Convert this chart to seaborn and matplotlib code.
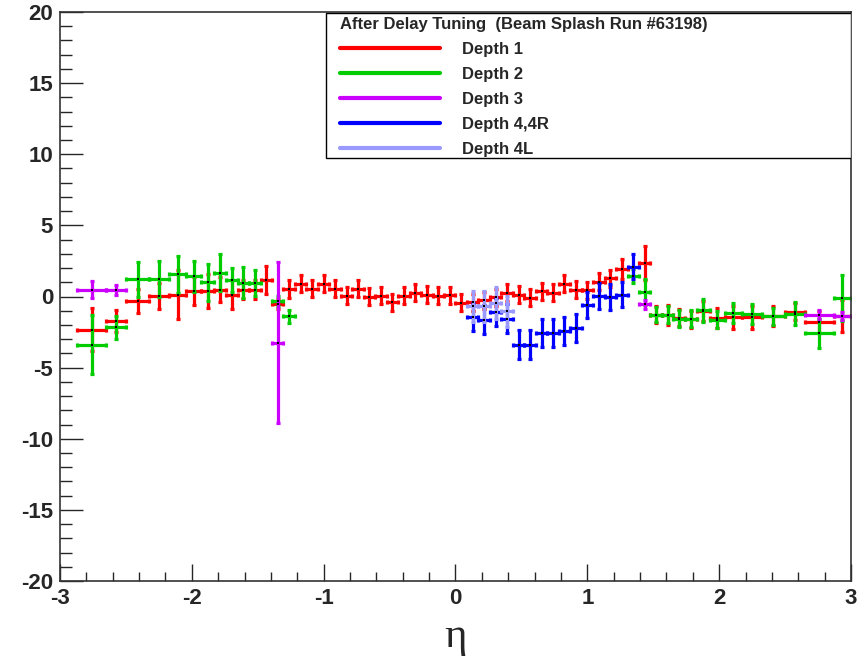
# Eta dependence of timing after delay tuning (beam splash run)
import numpy as np
import pandas as pd
import matplotlib
matplotlib.use("Agg")
import matplotlib.pyplot as plt
import seaborn as sns
from matplotlib.ticker import MultipleLocator
from matplotlib.lines import Line2D
from matplotlib.patches import Rectangle

# ============================================================
# Data
# ============================================================

# HCAL tower boundaries in |eta| for ieta 1..29
eta_edges = [0.000, 0.087, 0.174, 0.261, 0.348, 0.435, 0.522, 0.609, 0.696,
             0.783, 0.870, 0.957, 1.044, 1.131, 1.218, 1.305, 1.392, 1.479,
             1.566, 1.653, 1.740, 1.830, 1.930, 2.043, 2.172, 2.322, 2.500,
             2.650, 2.868, 3.000]

d1_ieta = [-28, -27, -26, -25, -24, -23, -22, -21, -20, -19, -18, -17, -16,
           -15, -14, -13, -12, -11, -10, -9, -8, -7, -6, -5, -4, -3, -2, -1,
           1, 2, 3, 4, 5, 6, 7, 8, 9, 10, 11, 12, 13, 14, 15, 17, 18, 19, 20,
           21, 22, 23, 24, 25, 26, 27, 28, 29]
d1_val = [-2.32, -1.73, -0.33, 0.02, 0.14, 0.37, 0.37, 0.49, 0.14, 0.49, 0.49,
          1.15, -0.5, 0.54, 0.91, 0.54, 0.91, 0.56, 0.07, 0.54, -0.02, 0.07,
          -0.4, 0.07, 0.26, 0.14, 0.07, 0.1,
          -0.45, -0.4, -0.25, -0.05, 0.26, 0.14, -0.1, 0.37, 0.26, 0.91, 0.47,
          0.45, 1.05, 1.28, 1.95, 2.37, -1.27, -1.27, -1.5, -1.6, -1.0, -1.5,
          -1.45, -1.45, -1.35, -1.08, -1.8, -1.38]
d1_err = [1.5, 0.8, 0.85, 0.9, 1.7, 1.0, 1.2, 0.9, 1.05, 0.7, 0.7, 1.0, 0.35,
          0.65, 0.6, 0.6, 0.6, 0.6, 0.6, 0.6, 0.6, 0.6, 0.6, 0.6, 0.6, 0.6,
          0.6, 0.6,
          0.6, 0.6, 0.6, 0.6, 0.6, 0.6, 0.6, 0.6, 0.6, 0.6, 0.6, 0.6, 0.6,
          0.6, 0.7, 1.2, 0.6, 0.7, 0.6, 0.6, 0.7, 0.7, 0.8, 0.8, 0.7, 0.6,
          0.8, 1.1]

d2_ieta = [-28, -27, -26, -25, -24, -23, -22, -21, -20, -19, -18, -16, -15,
           16, 17, 18, 19, 20, 21, 22, 23, 24, 25, 26, 27, 28, 29]
d2_val = [-3.38, -2.16, 1.2, 1.24, 1.55, 1.43, 1.01, 1.66, 1.15, 0.96, 0.96,
          -0.33, -1.38,
          1.43, 0.3, -1.27, -1.27, -1.57, -1.55, -0.98, -1.62, -1.15, -1.2,
          -1.38, -1.2, -2.6, -0.1]
d2_err = [2.05, 0.8, 1.2, 1.24, 1.3, 1.1, 1.3, 1.3, 0.85, 1.1, 0.9, 0.35, 0.45,
          0.5, 0.9, 0.5, 0.6, 0.6, 0.6, 0.8, 0.6, 0.7, 0.7, 0.6, 0.8, 1.0, 1.6]

d3_ieta = [-28, -27, -16, 17, 28, 29]
d3_val = [0.49, 0.49, -3.25, -0.56, -1.27, -1.38]
d3_err = [0.6, 0.35, 5.65, 0.3, 0.3, 0.3]

d4_ieta = [2, 3, 4, 5, 6, 7, 8, 9, 10, 11, 12, 13, 14, 15, 16]
d4_val = [-1.45, -1.62, -1.1, -1.55, -3.38, -3.38, -2.55, -2.55, -2.44, -2.2,
          -0.6, 0.05, -0.02, 0.14, 2.1]
d4_err = [1.0, 1.0, 1.0, 1.0, 1.0, 1.0, 1.0, 1.0, 1.0, 1.0, 0.9, 0.9, 0.9,
          0.9, 0.9]

d4l_ieta = [2, 3, 4, 5]
d4l_val = [-0.68, -0.68, -0.45, -1.03]
d4l_err = [1.1, 1.1, 1.1, 1.1]

labels = ["Depth 1", "Depth 2", "Depth 3", "Depth 4,4R", "Depth 4L"]
colors = ["#ff0000", "#00cc00", "#cc00ff", "#0000ff", "#9999ff"]
legend_title = "After Delay Tuning  (Beam Splash Run #63198)"

# ============================================================
# Build table
# ============================================================

frames = []
for lab, ie, v, e in zip(labels,
                         [d1_ieta, d2_ieta, d3_ieta, d4_ieta, d4l_ieta],
                         [d1_val, d2_val, d3_val, d4_val, d4l_val],
                         [d1_err, d2_err, d3_err, d4_err, d4l_err]):
    ie = np.array(ie)
    lo = np.array([eta_edges[abs(i) - 1] for i in ie])
    hi = np.array([eta_edges[abs(i)] for i in ie])
    sign = np.sign(ie)
    frames.append(pd.DataFrame({
        "depth": lab,
        "eta": sign * (lo + hi) / 2,
        "eta_err": (hi - lo) / 2,
        "dt": v,
        "dt_err": e,
    }))
df = pd.concat(frames, ignore_index=True)

# ============================================================
# Plot
# ============================================================

sns.set_theme(style="white")
plt.rcParams["font.family"] = ["Liberation Sans", "DejaVu Sans"]
plt.rcParams["axes.unicode_minus"] = False

fig = plt.figure(figsize=(8.62, 6.59), dpi=100)
ax = fig.add_axes([60 / 862, 78 / 659, 791 / 862, 569 / 659])

for lab, col in zip(labels, colors):
    sub = df[df["depth"] == lab]
    ax.errorbar(sub["eta"], sub["dt"], xerr=sub["eta_err"], yerr=sub["dt_err"],
                fmt="none", ecolor=col, elinewidth=2.3, capsize=1.6,
                capthick=2.3, zorder=2)

sns.scatterplot(data=df, x="eta", y="dt", color="black", marker="s", s=1.5,
                linewidth=0, ax=ax, zorder=3, legend=False)

ax.set_xlim(-3, 3)
ax.set_ylim(-20, 20)

ax.xaxis.set_major_locator(MultipleLocator(1))
ax.xaxis.set_minor_locator(MultipleLocator(0.2))
ax.yaxis.set_major_locator(MultipleLocator(5))
ax.yaxis.set_minor_locator(MultipleLocator(1))

ax.tick_params(axis="x", which="major", direction="in", length=12, width=1,
               pad=5, labelsize=16, bottom=True, top=False)
ax.tick_params(axis="x", which="minor", direction="in", length=6.5, width=1,
               bottom=True, top=False)
ax.tick_params(axis="y", which="major", direction="in", length=16.5, width=1,
               pad=5, labelsize=16, left=True, right=False)
ax.tick_params(axis="y", which="minor", direction="in", length=8.5, width=1,
               left=True, right=False)
for t in ax.get_xticklabels() + ax.get_yticklabels():
    t.set_fontweight("bold")

for s in ax.spines.values():
    s.set_color("#333333")
    s.set_linewidth(1.2)

ax.set_xlabel("η", family=["Liberation Serif", "DejaVu Serif"], fontsize=31,
              labelpad=6)
ax.set_ylabel("")

# legend box (ROOT style TLegend)
box = Rectangle((0.336, 0.743), 0.664, 0.255, transform=ax.transAxes,
                facecolor="white", edgecolor="black", linewidth=1.0,
                zorder=4)
ax.add_patch(box)

handles = [Line2D([], [], color=c, lw=3) for c in colors]
leg = ax.legend(handles, labels, title=legend_title, loc="upper left",
                bbox_to_anchor=(0.354, 0.992), frameon=False,
                borderaxespad=0, borderpad=0, handlelength=6.0,
                handletextpad=1.3, labelspacing=0.6, alignment="left",
                prop={"weight": "bold", "size": 12},
                title_fontproperties={"weight": "bold", "size": 12})
leg.set_zorder(5)

plt.savefig("out.png", dpi=100)
plt.close()
